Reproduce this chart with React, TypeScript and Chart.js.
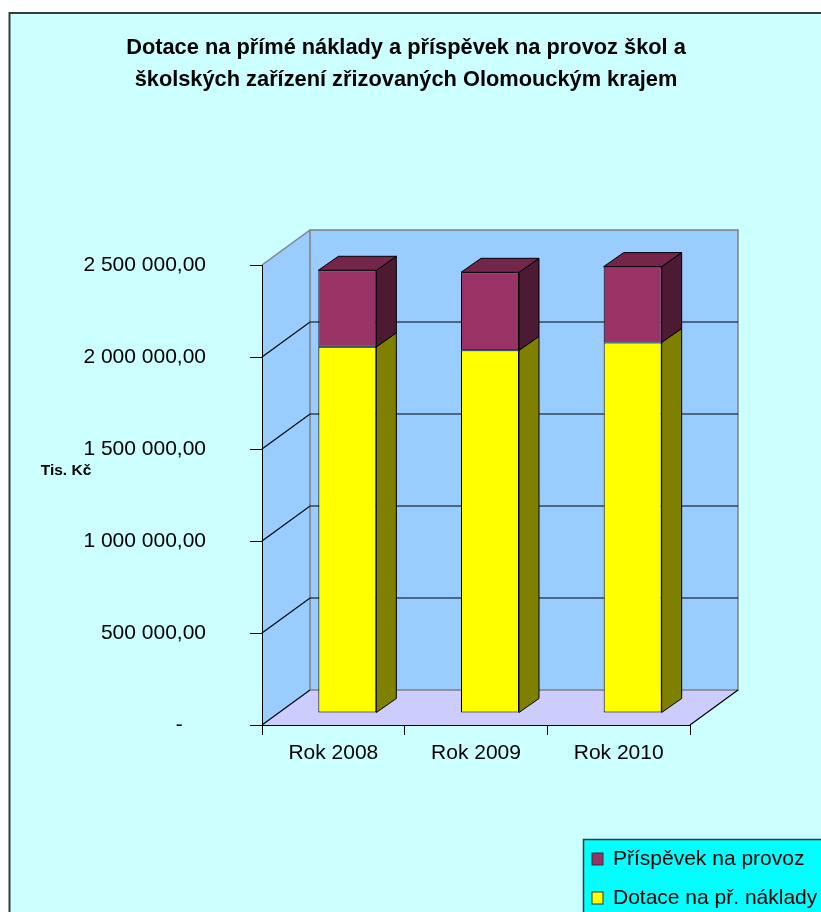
import React, { useEffect, useRef } from 'react';
import { Chart, registerables } from 'chart.js';

Chart.register(...registerables);

// ---- data ----
const categories = ['Rok 2008', 'Rok 2009', 'Rok 2010'];
const dotaceValues = [1990000, 1971000, 2014000];
const prispevekValues = [416000, 424000, 412000];
const seriesNames = ['Dotace na př. náklady', 'Příspěvek na provoz'];
const titleLines = [
  'Dotace na přímé náklady a příspěvek na provoz škol a',
  'školských zařízení zřizovaných Olomouckým krajem',
];
const yAxisTitle = 'Tis. Kč';
const yMin = 0;
const yMax = 2500000;
const yStep = 500000;

// ---- style ----
const W = 821;
const H = 912;
const FONT = '"Liberation Sans", Arial, Helvetica, sans-serif';
const WALL_DX = 48;
const WALL_DY = -35;
const BAR_FRONT = [14, -12];
const BAR_DEPTH = [20, -14];
const frontColors = ['#FFFF00', '#993366'];
const sideColors = ['#808000', '#4D1A33'];
const topColors = ['#C0C000', '#732649'];

function fmt(v: number): string {
  if (v === 0) return '-    ';
  const s = Math.round(v).toString().replace(/\B(?=(\d{3})+(?!\d))/g, ' ');
  return s + ',00';
}

const decor = {
  id: 'decor',
  beforeDraw(chart: any) {
    const ctx = chart.ctx as CanvasRenderingContext2D;
    const { left, right, top, bottom } = chart.chartArea;
    const ys = chart.scales.y;
    ctx.save();
    ctx.fillStyle = '#FFFFFF';
    ctx.fillRect(0, 0, W, H);
    ctx.fillStyle = '#CCFFFF';
    ctx.fillRect(9.5, 13, W + 20, H + 20);
    ctx.strokeStyle = '#3A3A3A';
    ctx.lineWidth = 2;
    ctx.strokeRect(9.5, 13, W + 20, H + 20);

    // title
    ctx.fillStyle = '#000';
    ctx.font = `bold 21.8px ${FONT}`;
    ctx.textAlign = 'center';
    ctx.textBaseline = 'middle';
    titleLines.forEach((t, i) => ctx.fillText(t, 406, 48 + i * 32));

    // axis title
    ctx.font = `bold 15.5px ${FONT}`;
    ctx.fillText(yAxisTitle, 66, 471);

    // walls
    const bx = left + WALL_DX;
    const btop = top + WALL_DY;
    const bbot = bottom + WALL_DY;
    ctx.fillStyle = '#99CCFF';
    ctx.beginPath();
    ctx.moveTo(left, top);
    ctx.lineTo(bx, btop);
    ctx.lineTo(bx, bbot);
    ctx.lineTo(left, bottom);
    ctx.closePath();
    ctx.fill();
    ctx.fillRect(bx, btop, right - left, bottom - top);
    ctx.fillStyle = '#CCCCFF';
    ctx.beginPath();
    ctx.moveTo(left, bottom);
    ctx.lineTo(bx, bbot);
    ctx.lineTo(right + WALL_DX, bbot);
    ctx.lineTo(right, bottom);
    ctx.closePath();
    ctx.fill();

    // grey borders
    ctx.strokeStyle = '#808080';
    ctx.lineWidth = 1.5;
    ctx.strokeRect(bx, btop, right - left, bottom - top);
    ctx.beginPath();
    ctx.moveTo(left, top);
    ctx.lineTo(bx, btop);
    ctx.stroke();

    // gridlines
    ctx.strokeStyle = '#000';
    ctx.lineWidth = 1.2;
    for (let v = yMin; v < yMax; v += yStep) {
      const py = ys.getPixelForValue(v);
      ctx.beginPath();
      ctx.moveTo(left, py);
      ctx.lineTo(bx, py + WALL_DY);
      if (v > yMin) ctx.lineTo(right + WALL_DX, py + WALL_DY);
      ctx.stroke();
    }
    ctx.beginPath();
    ctx.moveTo(right, bottom);
    ctx.lineTo(right + WALL_DX, bbot);
    ctx.stroke();
    ctx.restore();
  },
  beforeDatasetsDraw(chart: any) {
    chart.ctx.save();
    chart.ctx.translate(BAR_FRONT[0], BAR_FRONT[1]);
  },
  afterDatasetsDraw(chart: any) {
    const ctx = chart.ctx as CanvasRenderingContext2D;
    ctx.restore();
    ctx.save();
    ctx.strokeStyle = '#000';
    ctx.lineWidth = 1;
    ctx.lineJoin = 'round';
    const n = chart.data.datasets.length;
    for (let di = 0; di < n; di++) {
      const meta = chart.getDatasetMeta(di);
      meta.data.forEach((el: any) => {
        const w = el.width;
        const l = el.x - w / 2 + BAR_FRONT[0];
        const r = el.x + w / 2 + BAR_FRONT[0];
        const t = Math.min(el.y, el.base) + BAR_FRONT[1];
        const b = Math.max(el.y, el.base) + BAR_FRONT[1];
        const [dx, dy] = BAR_DEPTH;
        ctx.fillStyle = sideColors[di];
        ctx.beginPath();
        ctx.moveTo(r, t);
        ctx.lineTo(r + dx, t + dy);
        ctx.lineTo(r + dx, b + dy);
        ctx.lineTo(r, b);
        ctx.closePath();
        ctx.fill();
        ctx.stroke();
        if (di === n - 1) {
          ctx.fillStyle = topColors[di];
          ctx.beginPath();
          ctx.moveTo(l, t);
          ctx.lineTo(l + dx, t + dy);
          ctx.lineTo(r + dx, t + dy);
          ctx.lineTo(r, t);
          ctx.closePath();
          ctx.fill();
          ctx.stroke();
        }
      });
    }
    ctx.restore();
  },
  afterDraw(chart: any) {
    const ctx = chart.ctx as CanvasRenderingContext2D;
    ctx.save();
    ctx.fillStyle = '#00FFFF';
    ctx.fillRect(583.5, 839.5, 300, 100);
    ctx.strokeStyle = '#3A3A3A';
    ctx.lineWidth = 1.5;
    ctx.strokeRect(583.5, 839.5, 300, 100);
    const order = [1, 0];
    ctx.font = `21px ${FONT}`;
    ctx.textAlign = 'left';
    ctx.textBaseline = 'middle';
    order.forEach((di, i) => {
      const cy = 859 + i * 39;
      ctx.fillStyle = frontColors[di];
      ctx.fillRect(592, cy - 6, 11, 12);
      ctx.strokeStyle = '#333';
      ctx.lineWidth = 1;
      ctx.strokeRect(592, cy - 6, 11, 12);
      ctx.fillStyle = '#000';
      ctx.fillText(seriesNames[di], 613, cy);
    });
    ctx.restore();
  },
};

export default function App() {
  const ref = useRef<HTMLCanvasElement | null>(null);
  useEffect(() => {
    if (!ref.current) return;
    const chart = new Chart(ref.current, {
      type: 'bar',
      data: {
        labels: categories,
        datasets: [
          {
            label: seriesNames[0],
            data: dotaceValues,
            backgroundColor: frontColors[0],
          },
          {
            label: seriesNames[1],
            data: prispevekValues,
            backgroundColor: frontColors[1],
          },
        ],
      },
      options: {
        responsive: false,
        animation: false,
        devicePixelRatio: 1,
        layout: { padding: { top: 265, right: 131, bottom: 0, left: 0 } },
        datasets: {
          bar: {
            barPercentage: 0.4065,
            categoryPercentage: 1,
            borderWidth: 1,
            borderColor: '#000',
            borderSkipped: false,
            clip: false as any,
          },
        },
        plugins: {
          legend: { display: false },
          title: { display: false },
          tooltip: { enabled: false },
        },
        scales: {
          x: {
            stacked: true,
            offset: true,
            grid: {
              display: true,
              drawOnChartArea: false,
              drawTicks: true,
              tickLength: 10,
              color: '#000',
              offset: true,
            },
            border: { display: true, color: '#000', width: 1 },
            ticks: {
              color: '#000',
              font: { family: FONT, size: 21 },
              padding: 6,
              maxRotation: 0,
              autoSkip: false,
            },
            afterFit(s: any) {
              s.height = 187;
            },
          },
          y: {
            stacked: true,
            min: yMin,
            max: yMax,
            grid: {
              display: true,
              drawOnChartArea: false,
              drawTicks: true,
              tickLength: 12,
              color: '#000',
            },
            border: { display: true, color: '#000', width: 1 },
            ticks: {
              stepSize: yStep,
              color: '#000',
              font: { family: FONT, size: 21 },
              padding: 44,
              callback: (v: any) => fmt(Number(v)),
            },
            afterFit(s: any) {
              s.width = 262;
            },
          },
        },
      },
      plugins: [decor],
    });
    return () => chart.destroy();
  }, []);
  return (
    <div style={{ position: 'fixed', left: 0, top: 0, width: W, height: H, overflow: 'hidden' }}>
      <canvas ref={ref} width={W} height={H} style={{ width: W, height: H, display: 'block' }} />
    </div>
  );
}
